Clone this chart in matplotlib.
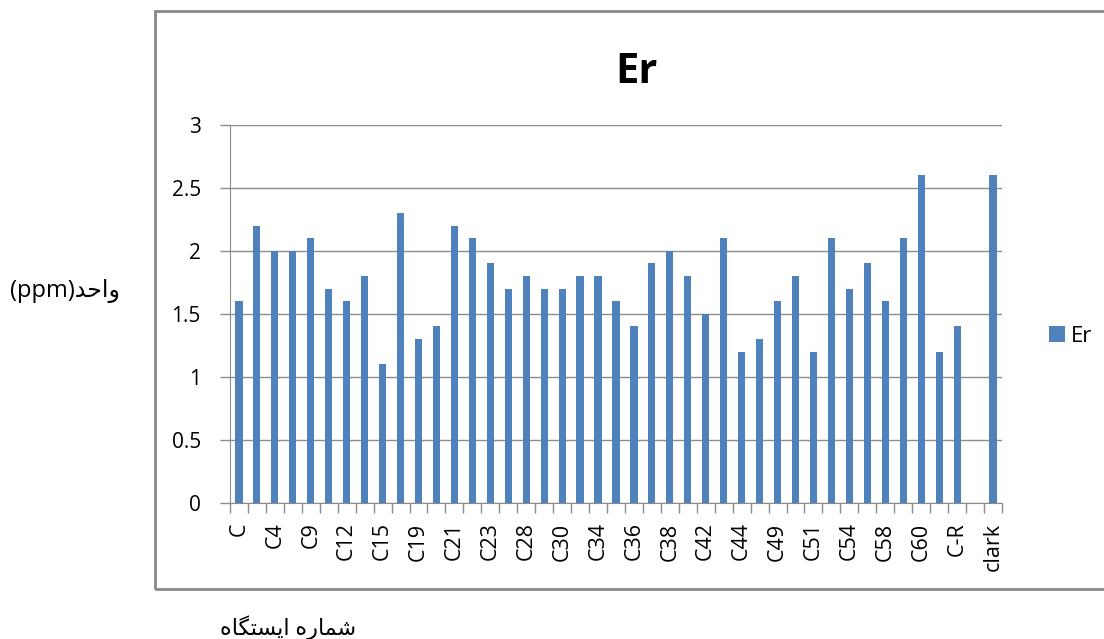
import matplotlib.pyplot as plt
import numpy as np
from matplotlib.patches import Rectangle

plt.rcParams['font.family'] = ['Open Sans', 'DejaVu Sans']

# station names (every other one is labelled on the axis)
stations = ['C', 'C2', 'C4', 'C7', 'C9', 'C10', 'C12', 'C13', 'C15', 'C17',
            'C19', 'C20', 'C21', 'C22', 'C23', 'C25', 'C28', 'C29', 'C30', 'C32',
            'C34', 'C35', 'C36', 'C37', 'C38', 'C40', 'C42', 'C43', 'C44', 'C47',
            'C49', 'C50', 'C51', 'C53', 'C54', 'C56', 'C58', 'C59', 'C60', 'C61',
            'C-R', '', 'clark']
er = [1.6, 2.2, 2.0, 2.0, 2.1, 1.7, 1.6, 1.8, 1.1, 2.3,
      1.3, 1.4, 2.2, 2.1, 1.9, 1.7, 1.8, 1.7, 1.7, 1.8,
      1.8, 1.6, 1.4, 1.9, 2.0, 1.8, 1.5, 2.1, 1.2, 1.3,
      1.6, 1.8, 1.2, 2.1, 1.7, 1.9, 1.6, 2.1, 2.6, 1.2,
      1.4, np.nan, 2.6]
yticks = [0, 0.5, 1, 1.5, 2, 2.5, 3]

# persian labels, written in visual order with presentation forms
ylab = '(ppm)' + '\uFEAA\uFEA3\uFE8D\uFEED'
xlab = '\uFEE9\uFE8E\uFB95\uFE98\uFEB4\uFBFE\uFE8D \uFEE9\uFEAD\uFE8E\uFEE4\uFEB7'

blue = '#4f81bd'
grey = '#8c8c8c'

fig = plt.figure(figsize=(11.04, 6.39), dpi=100)
ax = fig.add_axes([0.2083, 0.2128, 0.6993, 0.5921])

x = np.arange(len(stations))
ax.bar(x, er, width=0.4, color=blue, label='Er', zorder=3)

ax.set_xlim(-0.5, len(stations) - 0.5)
ax.set_ylim(0, 3)
ax.set_yticks(yticks)
ax.set_yticklabels(['0', '0.5', '1', '1.5', '2', '2.5', '3'])
ax.yaxis.grid(True, color=grey, lw=1, zorder=0)

# category boundaries as tick marks, names in between
ax.set_xticks(np.arange(len(stations) + 1) - 0.5)
ax.set_xticklabels([])
ax.set_xticks(x[::2], minor=True)
ax.set_xticklabels(stations[::2], minor=True, rotation=90)
ax.tick_params(axis='x', which='major', length=7, color=grey, width=1)
ax.tick_params(axis='x', which='minor', length=0, pad=14, labelsize=15.5)
ax.tick_params(axis='y', length=7, color=grey, width=1, labelsize=15, pad=14)

for s in ['top', 'right']:
    ax.spines[s].set_visible(False)
for s in ['left', 'bottom']:
    ax.spines[s].set_color(grey)

ax.set_title('Er', fontsize=30, fontweight='bold', x=0.526, pad=30)

leg = ax.legend(loc='center left', bbox_to_anchor=(1.035, 0.44), frameon=False,
                fontsize=16, handlelength=0.7, handleheight=0.7, handletextpad=0.3)

fig.text(0.059, 0.545, ylab, fontsize=17, ha='center', va='center')
fig.text(0.261, 0.018, xlab, fontsize=16, ha='center', va='center')

# outer chart frame
fig.patches.append(Rectangle((0.14, 0.078), 0.9, 0.905, transform=fig.transFigure,
                             fill=False, edgecolor='#888888', lw=2))

fig.savefig('out.png', dpi=100)
